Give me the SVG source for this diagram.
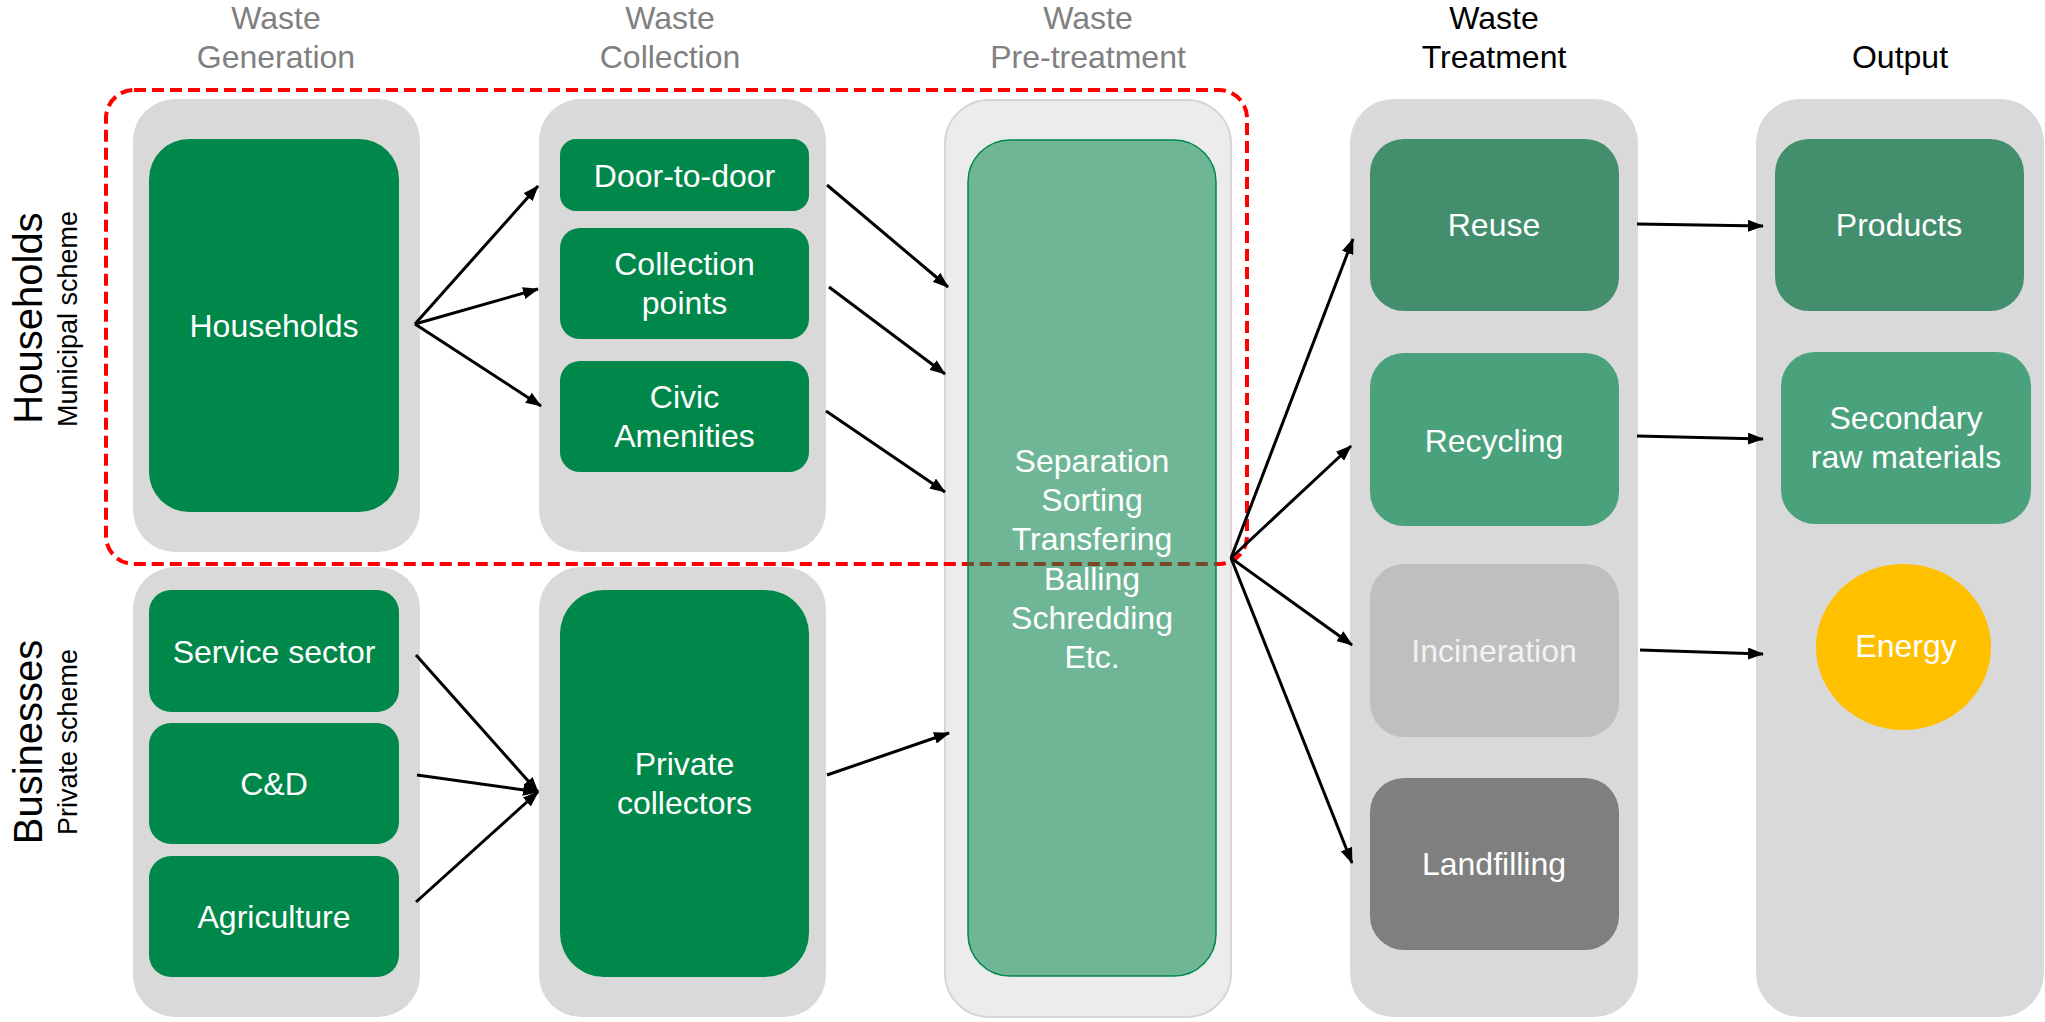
<svg xmlns="http://www.w3.org/2000/svg" width="2045" height="1022" viewBox="0 0 2045 1022">
<style>
text{font-family:"Liberation Sans",Arial,sans-serif;font-size:32px;text-anchor:middle}
.hdr{fill:#808080}
.hdrk{fill:#000}
.lbl{fill:#fff}
.col{fill:#d9d9d9}
.g{fill:#00874a}
.g2{fill:#428e6d}
.g3{fill:#4aa27c}
.side{fill:#000;font-size:40px}
.sub{fill:#000;font-size:27px}
.arr{stroke:#000;stroke-width:3;fill:none;marker-end:url(#ah)}
</style>
<defs>
<marker id="ah" markerUnits="userSpaceOnUse" viewBox="0 0 16 12" refX="15" refY="6" markerWidth="16" markerHeight="12" orient="auto">
<path d="M0,0 L16,6 L0,12 z" fill="#000"/>
</marker>
</defs>
<rect width="2045" height="1022" fill="#fff"/>

<g id="headers">
<text class="hdr" x="276" y="29">Waste</text>
<text class="hdr" x="276" y="68">Generation</text>
<text class="hdr" x="670" y="29">Waste</text>
<text class="hdr" x="670" y="68">Collection</text>
<text class="hdr" x="1088" y="29">Waste</text>
<text class="hdr" x="1088" y="68">Pre-treatment</text>
<text class="hdrk" x="1494" y="29">Waste</text>
<text class="hdrk" x="1494" y="68">Treatment</text>
<text class="hdrk" x="1900" y="68">Output</text>
</g>

<g id="side-labels">
<text class="side" transform="translate(42,318) rotate(-90)">Households</text>
<text class="sub" transform="translate(77,319) rotate(-90)">Municipal scheme</text>
<text class="side" transform="translate(42,742) rotate(-90)">Businesses</text>
<text class="sub" transform="translate(77,742) rotate(-90)">Private scheme</text>
</g>

<g id="columns">
<rect id="gen-upper" class="col" x="133" y="99" width="287" height="453" rx="42"/>
<rect id="gen-lower" class="col" x="133" y="567" width="287" height="450" rx="42"/>
<rect id="coll-upper" class="col" x="539" y="99" width="287" height="453" rx="42"/>
<rect id="coll-lower" class="col" x="539" y="567" width="287" height="450" rx="42"/>
<rect id="pre-outer" x="945" y="100" width="286" height="917" rx="44" fill="#ececec" stroke="#d6d6d6" stroke-width="2"/>
<rect id="treat-col" class="col" x="1350" y="99" width="288" height="918" rx="44"/>
<rect id="out-col" class="col" x="1756" y="99" width="288" height="918" rx="44"/>
</g>

<g id="municipal-boundary">
<rect x="106" y="90" width="1141" height="474" rx="28" fill="none" stroke="#ff0000" stroke-width="4" stroke-dasharray="12 6"/>
</g>

<g id="households">
<rect class="g" x="149" y="139" width="250" height="373" rx="40"/>
<text class="lbl" x="274" y="337">Households</text>
</g>
<g id="service-sector">
<rect class="g" x="149" y="590" width="250" height="122" rx="22"/>
<text class="lbl" x="274" y="663">Service sector</text>
</g>
<g id="cd">
<rect class="g" x="149" y="723" width="250" height="121" rx="22"/>
<text class="lbl" x="274" y="795">C&amp;D</text>
</g>
<g id="agriculture">
<rect class="g" x="149" y="856" width="250" height="121" rx="22"/>
<text class="lbl" x="274" y="928">Agriculture</text>
</g>

<g id="door-to-door">
<rect class="g" x="560" y="139" width="249" height="72" rx="16"/>
<text class="lbl" x="684.5" y="187">Door-to-door</text>
</g>
<g id="collection-points">
<rect class="g" x="560" y="228" width="249" height="111" rx="20"/>
<text class="lbl" x="684.5" y="275">Collection</text>
<text class="lbl" x="684.5" y="314">points</text>
</g>
<g id="civic-amenities">
<rect class="g" x="560" y="361" width="249" height="111" rx="20"/>
<text class="lbl" x="684.5" y="408">Civic</text>
<text class="lbl" x="684.5" y="447">Amenities</text>
</g>
<g id="private-collectors">
<rect class="g" x="560" y="590" width="249" height="387" rx="44"/>
<text class="lbl" x="684.5" y="775">Private</text>
<text class="lbl" x="684.5" y="814">collectors</text>
</g>

<g id="pre-treatment">
<rect x="968" y="140" width="248" height="836" rx="42" fill="#00874a" fill-opacity="0.53" stroke="#00874a" stroke-width="1.5"/>
<text class="lbl" x="1092" y="472">Separation</text>
<text class="lbl" x="1092" y="511">Sorting</text>
<text class="lbl" x="1092" y="550">Transfering</text>
<text class="lbl" x="1092" y="590">Balling</text>
<text class="lbl" x="1092" y="629">Schredding</text>
<text class="lbl" x="1092" y="668">Etc.</text>
</g>

<g id="reuse">
<rect class="g2" x="1370" y="139" width="249" height="172" rx="34"/>
<text class="lbl" x="1494" y="236">Reuse</text>
</g>
<g id="recycling">
<rect class="g3" x="1370" y="353" width="249" height="173" rx="34"/>
<text class="lbl" x="1494" y="452">Recycling</text>
</g>
<g id="incineration">
<rect x="1370" y="564" width="249" height="173" rx="34" fill="#bfbfbf"/>
<text x="1494" y="662" fill="#f2f2f2">Incineration</text>
</g>
<g id="landfilling">
<rect x="1370" y="778" width="249" height="172" rx="34" fill="#7f7f7f"/>
<text class="lbl" x="1494" y="875">Landfilling</text>
</g>

<g id="products">
<rect class="g2" x="1775" y="139" width="249" height="172" rx="34"/>
<text class="lbl" x="1899" y="236">Products</text>
</g>
<g id="secondary-raw-materials">
<rect class="g3" x="1781" y="352" width="250" height="172" rx="34"/>
<text class="lbl" x="1906" y="429">Secondary</text>
<text class="lbl" x="1906" y="468">raw materials</text>
</g>
<g id="energy">
<ellipse cx="1903.5" cy="647" rx="87.5" ry="83" fill="#ffc000"/>
<text class="lbl" x="1906" y="657">Energy</text>
</g>

<g id="connectors">
<line class="arr" x1="415" y1="324" x2="538" y2="186"/>
<line class="arr" x1="415" y1="324" x2="538" y2="289"/>
<line class="arr" x1="415" y1="324" x2="541" y2="406"/>
<line class="arr" x1="416" y1="655" x2="538" y2="792"/>
<line class="arr" x1="417" y1="775" x2="538" y2="792"/>
<line class="arr" x1="416" y1="902" x2="538" y2="792"/>
<line class="arr" x1="827" y1="185" x2="948" y2="287"/>
<line class="arr" x1="829" y1="287" x2="945" y2="374"/>
<line class="arr" x1="826" y1="411" x2="945" y2="492"/>
<line class="arr" x1="827" y1="775" x2="949" y2="733"/>
<line class="arr" x1="1231" y1="558" x2="1353" y2="239"/>
<line class="arr" x1="1231" y1="558" x2="1351" y2="446"/>
<line class="arr" x1="1231" y1="558" x2="1352" y2="645"/>
<line class="arr" x1="1231" y1="558" x2="1352" y2="863"/>
<line class="arr" x1="1637" y1="224" x2="1763" y2="226"/>
<line class="arr" x1="1637" y1="436" x2="1763" y2="439"/>
<line class="arr" x1="1640" y1="650" x2="1763" y2="654"/>
</g>
</svg>
